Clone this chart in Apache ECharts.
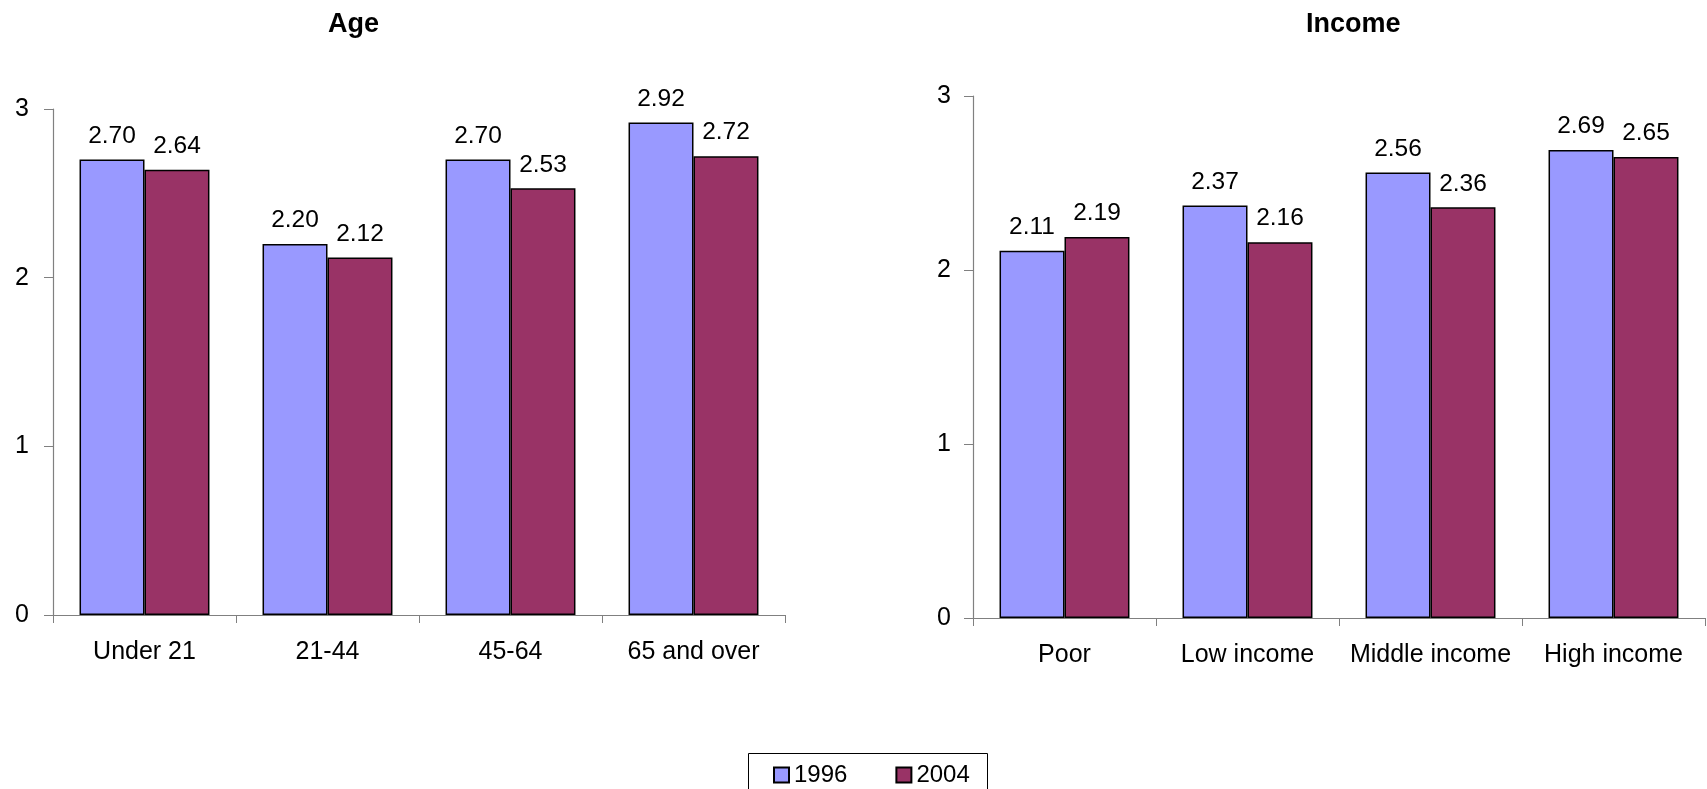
<!DOCTYPE html>
<html>
<head>
<meta charset="utf-8">
<script src="https://cdn.jsdelivr.net/npm/echarts@6/dist/echarts.min.js"></script>
<style>
html,body{margin:0;padding:0;background:#fff;}
#chart{width:1707px;height:789px;}
</style>
</head>
<body>
<div id="chart"></div>
<script>
const ageCategories = ['Under 21', '21-44', '45-64', '65 and over'];
const age1996 = [2.70, 2.20, 2.70, 2.92];
const age2004 = [2.64, 2.12, 2.53, 2.72];

const incomeCategories = ['Poor', 'Low income', 'Middle income', 'High income'];
const income1996 = [2.11, 2.37, 2.56, 2.69];
const income2004 = [2.19, 2.16, 2.36, 2.65];

const seriesNames = ['1996', '2004'];
const titles = ['Age', 'Income'];
const yTicks = { min: 0, max: 3, interval: 1 };

const FONT = '"Liberation Sans", Arial, sans-serif';
const C1 = '#9999FF', C2 = '#993366';
const AX = '#808080';

function xAxis(idx, cats) {
  return {
    type: 'category', gridIndex: idx, data: cats,
    axisLine: { lineStyle: { color: AX, width: 1.2 } },
    axisTick: { show: true, length: 8, lineStyle: { color: AX } },
    axisLabel: { color: '#000', fontSize: 25, fontFamily: FONT, margin: 25, interval: 0 }
  };
}
function yAxis(idx, margin) {
  return {
    type: 'value', gridIndex: idx, min: yTicks.min, max: yTicks.max, interval: yTicks.interval,
    splitLine: { show: false },
    axisLine: { show: true, lineStyle: { color: AX, width: 1.2 } },
    axisTick: { show: true, length: 9, lineStyle: { color: AX } },
    axisLabel: { color: '#000', fontSize: 25, fontFamily: FONT, margin: margin }
  };
}
function bar(name, data, color, idx) {
  return {
    name: name, type: 'bar', xAxisIndex: idx, yAxisIndex: idx, data: data,
    barGap: '0%', barCategoryGap: '29%',
    itemStyle: { color: color, borderColor: '#000', borderWidth: 1.5 },
    label: {
      show: true, position: 'top', distance: 11, color: '#000', fontSize: 24.5, fontFamily: FONT,
      formatter: p => p.value.toFixed(2)
    },
    emphasis: { disabled: true }
  };
}

const chart = echarts.init(document.getElementById('chart'), null, { renderer: 'canvas' });
chart.setOption({
  animation: false,
  backgroundColor: '#fff',
  title: [
    { text: titles[0], left: 328, top: 11, padding: 0, textStyle: { fontSize: 27, fontWeight: 'bold', fontFamily: FONT, color: '#000' } },
    { text: titles[1], left: 1306, top: 11, padding: 0, textStyle: { fontSize: 27, fontWeight: 'bold', fontFamily: FONT, color: '#000' } }
  ],
  grid: [
    { left: 53, top: 109, width: 732, height: 506 },
    { left: 973, top: 96, width: 732, height: 522 }
  ],
  xAxis: [xAxis(0, ageCategories), xAxis(1, incomeCategories)],
  yAxis: [yAxis(0, 24), yAxis(1, 22)],
  legend: {
    data: seriesNames, left: 773, top: 763, padding: 0, itemGap: 48,
    itemWidth: 15, itemHeight: 15, icon: 'rect',
    textStyle: { fontSize: 24, fontFamily: FONT, color: '#000' }
  },
  graphic: [{
    type: 'rect', shape: { x: 748.5, y: 753.5, width: 239, height: 60 },
    style: { fill: 'none', stroke: '#000', lineWidth: 1 }, silent: true
  }],
  series: [
    bar(seriesNames[0], age1996, C1, 0),
    bar(seriesNames[1], age2004, C2, 0),
    bar(seriesNames[0], income1996, C1, 1),
    bar(seriesNames[1], income2004, C2, 1)
  ]
});
</script>
</body>
</html>
